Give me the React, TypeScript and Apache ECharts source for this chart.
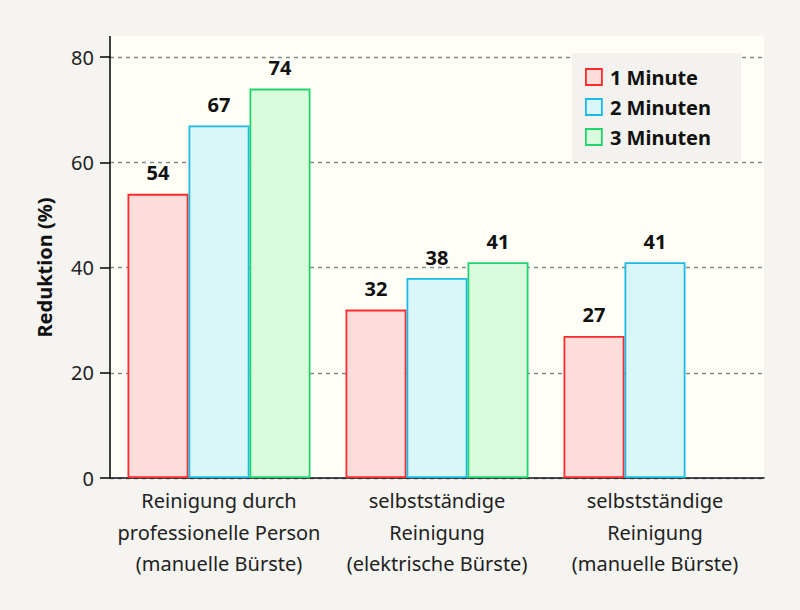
import React, { useEffect, useRef } from "react";
import * as echarts from "echarts";

const categories = [
  "Reinigung durch\nprofessionelle Person\n(manuelle Bürste)",
  "selbstständige\nReinigung\n(elektrische Bürste)",
  "selbstständige\nReinigung\n(manuelle Bürste)",
];
const seriesNames = ["1 Minute", "2 Minuten", "3 Minuten"];
const oneMinute = [54, 32, 27];
const twoMinutes = [67, 38, 41];
const threeMinutes: (number | null)[] = [74, 41, null];
const yTicks = { min: 0, max: 80, interval: 20 };

const FONT = "Noto Sans";
const borders = ["#ff2a2a", "#1cb8e8", "#22d46e"];
const fills = ["#fddcdc", "#d9f6f8", "#d9fcdd"];

export default function App() {
  const ref = useRef<HTMLDivElement>(null);
  useEffect(() => {
    if (!ref.current) return;
    document.body.style.margin = "0";
    document.body.style.background = "#f5f4f1";
    const chart = echarts.init(ref.current, undefined, { renderer: "svg" });
    const data = [oneMinute, twoMinutes, threeMinutes];
    chart.setOption({
      animation: false,
      backgroundColor: "#f5f4f1",
      textStyle: { fontFamily: FONT },
      graphic: [
        {
          type: "rect",
          z: -10,
          shape: { x: 110, y: 36, width: 654, height: 442 },
          style: { fill: "#fffef6" },
        },
        {
          type: "line",
          z: 10,
          shape: { x1: 110, y1: 36, x2: 110, y2: 58 },
          style: { stroke: "#111", lineWidth: 1.6 },
        },
      ],
      grid: { left: 110, right: 36, top: 57, bottom: 132, containLabel: false },
      legend: {
        left: 572,
        top: 53,
        orient: "vertical",
        backgroundColor: "#f3f2ee",
        padding: [14, 30, 14, 13],
        itemWidth: 16,
        itemHeight: 16,
        itemGap: 10,
        icon: "rect",
        itemStyle: { borderWidth: 1.8 },
        textStyle: {
          fontFamily: FONT,
          fontWeight: "bold",
          fontSize: 20,
          color: "#111",
          lineHeight: 20,
          padding: [0, 0, 0, 3],
        },
        data: seriesNames,
      },
      xAxis: {
        type: "category",
        data: categories,
        axisLine: { lineStyle: { color: "#111", width: 1.6 } },
        axisTick: { length: 10, lineStyle: { color: "#111", width: 1.6 } },
        axisLabel: {
          interval: 0,
          fontFamily: FONT,
          fontSize: 20,
          color: "#222",
          lineHeight: 31.5,
          margin: 7,
        },
      },
      yAxis: {
        type: "value",
        min: yTicks.min,
        max: yTicks.max,
        interval: yTicks.interval,
        name: "Reduktion (%)",
        nameLocation: "middle",
        nameGap: 56,
        nameTextStyle: { fontFamily: FONT, fontWeight: "bold", fontSize: 20, color: "#111" },
        axisLine: { show: true, lineStyle: { color: "#111", width: 1.6 } },
        axisTick: { show: true, length: 10, lineStyle: { color: "#111", width: 1.6 } },
        axisLabel: { fontFamily: FONT, fontSize: 20, color: "#222", margin: 16 },
        splitLine: {
          show: true,
          lineStyle: { color: "#7f8f8f", type: [4, 4], width: 1.4 },
        },
      },
      series: seriesNames.map((name, i) => ({
        name,
        type: "bar",
        data: data[i],
        barWidth: 61,
        barGap: "0%",
        itemStyle: { color: fills[i], borderColor: borders[i], borderWidth: 1.8 },
        label: {
          show: true,
          position: "top",
          distance: 11,
          fontFamily: FONT,
          fontWeight: "bold",
          fontSize: 20,
          color: "#111",
        },
      })),
    });
    return () => chart.dispose();
  }, []);
  return (
    <div
      ref={ref}
      style={{ position: "fixed", left: 0, top: 0, width: 800, height: 610 }}
    />
  );
}
